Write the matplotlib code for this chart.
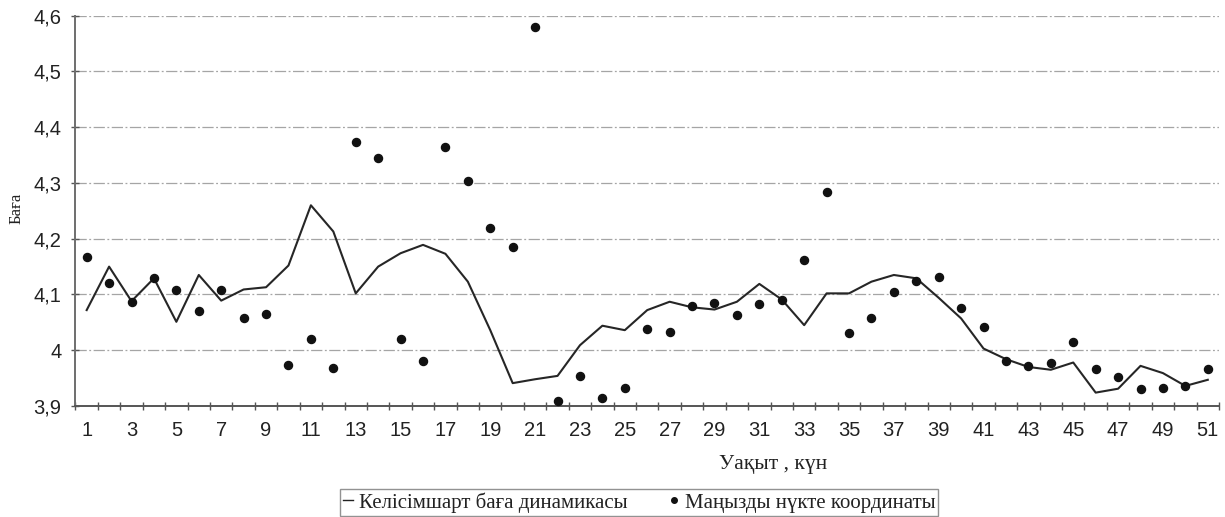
import matplotlib
matplotlib.use("Agg")
import matplotlib.pyplot as plt
from matplotlib.ticker import FixedLocator, FuncFormatter, MultipleLocator
from matplotlib.lines import Line2D

# Days of observation
days = list(range(1, 52))

# Contract price dynamics (line)
price_line = [
    4.072, 4.150, 4.088, 4.129, 4.051, 4.135, 4.089, 4.109, 4.113, 4.152,
    4.260, 4.213, 4.102, 4.150, 4.174, 4.189, 4.173, 4.123, 4.036, 3.941,
    3.948, 3.954, 4.009, 4.044, 4.036, 4.072, 4.087, 4.077, 4.073, 4.087,
    4.119, 4.091, 4.045, 4.102, 4.102, 4.123, 4.135, 4.129, 4.094, 4.057,
    4.003, 3.984, 3.970, 3.965, 3.978, 3.924, 3.931, 3.972, 3.959, 3.936,
    3.947,
]

# Coordinates of significant points (dots)
key_points = [
    4.167, 4.121, 4.087, 4.129, 4.108, 4.071, 4.108, 4.058, 4.065, 3.974,
    4.020, 3.968, 4.373, 4.344, 4.021, 3.980, 4.364, 4.304, 4.220, 4.186,
    4.580, 3.909, 3.953, 3.914, 3.933, 4.038, 4.033, 4.079, 4.084, 4.063,
    4.083, 4.090, 4.162, 4.283, 4.031, 4.057, 4.104, 4.124, 4.132, 4.075,
    4.041, 3.981, 3.972, 3.978, 4.015, 3.966, 3.952, 3.931, 3.933, 3.936,
    3.967,
]

y_ticks = [3.9, 4.0, 4.1, 4.2, 4.3, 4.4, 4.5, 4.6]

line_label = "Келісімшарт баға динамикасы"
dots_label = "Маңызды нүкте координаты"
x_title = "Уақыт , күн"
y_title = "Баға"

serif = ["Liberation Serif", "DejaVu Serif"]
sans = ["Liberation Sans", "DejaVu Sans"]

fig = plt.figure(figsize=(12.25, 5.17), dpi=100)
ax = fig.add_axes([0.0616, 0.2147, 0.9335, 0.7549])

line_art, = ax.plot(days, price_line, color="#262626", lw=1.5, zorder=3)
dot_art, = ax.plot(days, key_points, ls="none", marker="o", ms=5.8,
                   color="#111111", zorder=4)

ax.set_xlim(0.5, 51.5)
ax.set_ylim(3.9, 4.6)

# Horizontal dash-dot gridlines
for v in y_ticks[1:]:
    ax.axhline(v, color="#a5a5a5", lw=0.9, ls=(0, (9, 2, 1.5, 2)), zorder=1)

# Category tick marks between days, labels on every other day
ax.xaxis.set_major_locator(FixedLocator(days[::2]))
ax.xaxis.set_major_formatter(FuncFormatter(lambda v, p: str(int(round(v)))))
ax.xaxis.set_minor_locator(MultipleLocator(1, offset=0.5))
ax.tick_params(axis="x", which="major", length=0, pad=11, labelsize=14.5,
               labelcolor="#222222")
ax.tick_params(axis="x", which="minor", direction="inout", length=6,
               width=1, color="#555555")

def comma_fmt(v, pos):
    if abs(v - round(v)) < 1e-6:
        return str(int(round(v)))
    return f"{v:.1f}".replace(".", ",")

ax.yaxis.set_major_locator(FixedLocator(y_ticks))
ax.yaxis.set_major_formatter(FuncFormatter(comma_fmt))
ax.tick_params(axis="y", direction="inout", length=6, width=1,
               color="#555555", pad=7, labelsize=14.5, labelcolor="#222222")

for lab in ax.get_xticklabels() + ax.get_yticklabels():
    lab.set_family(sans)

for side in ("top", "right"):
    ax.spines[side].set_visible(False)
ax.spines["left"].set_color("#6e6e6e")
ax.spines["left"].set_linewidth(1.4)
ax.spines["bottom"].set_color("#555555")
ax.spines["bottom"].set_linewidth(1.4)

fig.text(773 / 1225, 1 - 465 / 517, x_title, family=serif, fontsize=15.5,
         ha="center", va="center", color="#222222")
fig.text(17 / 1225, 1 - 208 / 517, y_title, family=serif, fontsize=12,
         rotation=90, ha="center", va="center", color="#222222")

leg = fig.legend(
    [Line2D([], [], color="#222222", lw=1.0),
     Line2D([], [], ls="none", marker="o", ms=4, color="#111111")],
    [line_label, dots_label],
    loc="upper left", bbox_to_anchor=(340 / 1225, 1 - 489 / 517),
    ncol=2, frameon=True, fancybox=False, handlelength=0.45,
    handletextpad=0.3, columnspacing=2.0, borderpad=0.15,
    borderaxespad=0.0, prop={"family": serif, "size": 15},
)
leg.get_frame().set_edgecolor("#777777")
leg.get_frame().set_linewidth(1.0)
for t in leg.get_texts():
    t.set_color("#222222")

fig.savefig("out.png", dpi=100, facecolor="white")
